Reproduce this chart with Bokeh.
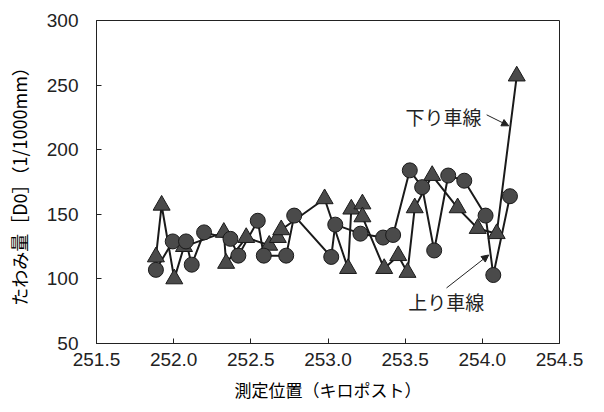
from bokeh.plotting import figure
from bokeh.models import FixedTicker, NumeralTickFormatter, Label, Arrow, NormalHead, ColumnDataSource, Range1d
from bokeh.embed import file_html
from bokeh.resources import INLINE

# 下り車線 (triangles)
down_km = [251.885, 251.922, 252.004, 252.067, 252.325, 252.340, 252.470, 252.619,
           252.675, 252.697, 252.978, 253.130, 253.151, 253.223, 253.223, 253.364,
           253.455, 253.515, 253.562, 253.675, 253.840, 253.970, 254.093, 254.223]
down_d0 = [117, 157, 100, 125, 136, 112, 132, 126,
           132, 138, 162, 108, 154, 158, 148, 108,
           118, 105, 155, 180, 155, 139, 135, 257]

# 上り車線 (circles)
up_km = [251.885, 251.994, 252.080, 252.117, 252.197, 252.368, 252.419, 252.545,
         252.584, 252.729, 252.781, 253.021, 253.047, 253.210, 253.357, 253.422,
         253.530, 253.610, 253.688, 253.779, 253.883, 254.021, 254.071, 254.179]
up_d0 = [107, 129, 129, 111, 136, 131, 118, 145,
         118, 118, 149, 117, 142, 135, 132, 134,
         184, 171, 122, 180, 176, 149, 103, 164]

x_ticks = [251.5, 252.0, 252.5, 253.0, 253.5, 254.0, 254.5]
y_ticks = [50, 100, 150, 200, 250, 300]

label_down = "下り車線"
label_up = "上り車線"
x_title = "測定位置（キロポスト）"
y_title = "たわみ量［D0］（1/1000mm）"

cjk = "Noto Sans CJK JP"
num_font = "Liberation Sans"

p = figure(width=596, height=404, output_backend="svg", toolbar_location=None,
           x_range=Range1d(251.5, 254.5), y_range=Range1d(50, 300),
           min_border_left=96, min_border_right=37, min_border_top=20, min_border_bottom=56)
p.background_fill_color = "white"
p.border_fill_color = "white"
p.outline_line_color = "#222222"
p.outline_line_width = 1
p.xgrid.visible = False
p.ygrid.visible = False

src_d = ColumnDataSource(dict(x=down_km, y=down_d0))
src_u = ColumnDataSource(dict(x=up_km, y=up_d0))

p.line("x", "y", source=src_d, line_color="#1a1a1a", line_width=2)
p.line("x", "y", source=src_u, line_color="#1a1a1a", line_width=2)
p.scatter("x", "y", source=src_d, marker="triangle", size=17,
          fill_color="#4a4a4a", line_color="#1a1a1a", line_width=1)
p.scatter("x", "y", source=src_u, marker="circle", size=15,
          fill_color="#4a4a4a", line_color="#1a1a1a", line_width=1)

for ax in (p.xaxis[0], p.yaxis[0]):
    ax.axis_line_color = "#222222"
    ax.major_tick_line_color = "#222222"
    ax.major_tick_in = 5
    ax.major_tick_out = 0
    ax.minor_tick_line_color = None
    ax.major_label_text_font = num_font
    ax.major_label_text_font_size = "19px"
    ax.major_label_text_color = "#222222"
    ax.axis_label_text_font = cjk
    ax.axis_label_text_font_style = "normal"
    ax.axis_label_text_color = "black"

p.xaxis.ticker = FixedTicker(ticks=x_ticks)
p.yaxis.ticker = FixedTicker(ticks=y_ticks)
p.xaxis.formatter = NumeralTickFormatter(format="0.0")
p.xaxis.major_label_standoff = 9
p.yaxis.major_label_standoff = 18
p.xaxis.axis_label = x_title
p.yaxis.axis_label = y_title
p.xaxis.axis_label_text_font_size = "17px"
p.yaxis.axis_label_text_font_size = "18px"
p.xaxis.axis_label_standoff = 8
p.yaxis.axis_label_standoff = 12

p.add_layout(Label(x=253.995, y=226, text=label_down, text_align="right", text_baseline="middle",
                   text_font=cjk, text_font_size="19px", text_color="#222222"))
p.add_layout(Arrow(x_start=254.028, y_start=227, x_end=254.171, y_end=218.5,
                   line_color="#222222", line_width=1,
                   end=NormalHead(size=7, fill_color="#222222", line_color="#222222")))
p.add_layout(Label(x=253.52, y=82.6, text=label_up, text_align="left", text_baseline="middle",
                   text_font=cjk, text_font_size="19px", text_color="#222222"))
p.add_layout(Arrow(x_start=253.768, y_start=93, x_end=254.041, y_end=118.5,
                   line_color="#222222", line_width=1,
                   end=NormalHead(size=7, fill_color="#222222", line_color="#222222")))

open("out.html", "w").write(file_html(p, INLINE))
